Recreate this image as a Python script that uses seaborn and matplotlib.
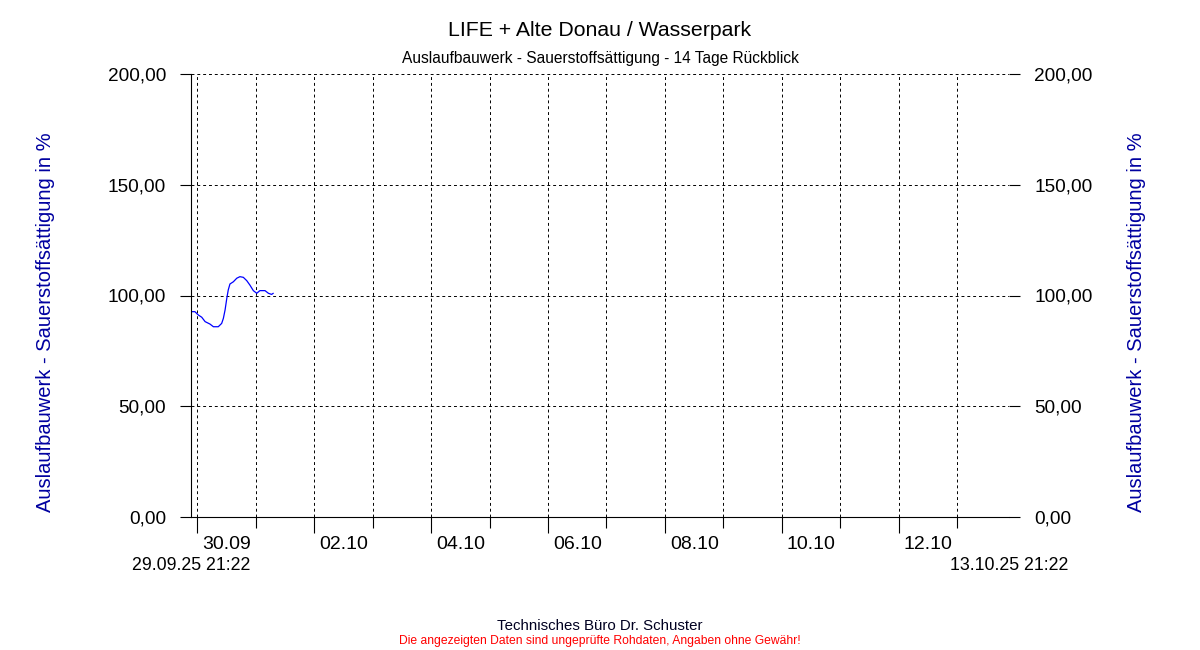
import pandas as pd
import matplotlib
matplotlib.use('Agg')
import matplotlib.pyplot as plt
import matplotlib.dates as mdates
import matplotlib.transforms as mtransforms
from matplotlib.ticker import FuncFormatter
import seaborn as sns

# Messwerte (Stunden seit Beginn, Sauerstoffsaettigung in %)
start = pd.Timestamp('2025-09-29 21:22')
end = pd.Timestamp('2025-10-13 21:22')
hours = [0.3, 1.6, 3.0, 4.4, 5.8, 7.8, 9.2, 11.2, 12.6, 13.3, 14.0, 14.7,
         15.3, 16.0, 17.4, 18.8, 20.1, 21.5, 22.9, 24.2, 25.6, 27.0, 28.3,
         30.4, 31.8, 33.1, 33.8]
values = [92.7, 92.7, 91.2, 90.2, 88.2, 87.1, 85.9, 85.9, 87.4, 89.7, 93.5,
          98.7, 102.5, 105.2, 106.2, 107.8, 108.5, 108.2, 106.7, 104.7, 102.2,
          101.0, 102.2, 102.2, 101.0, 100.5, 101.0]
y_ticks = [0, 50, 100, 150, 200]

df = pd.DataFrame({'zeit': start + pd.to_timedelta(hours, unit='h'),
                   'wert': values})

sns.set_style('white')
plt.rcParams['font.family'] = ['Liberation Sans', 'DejaVu Sans']
plt.rcParams['text.color'] = 'black'
plt.rcParams['xtick.color'] = 'black'
plt.rcParams['ytick.color'] = 'black'

fig = plt.figure(figsize=(12, 6.5), dpi=100)
ax = fig.add_axes([191 / 1200, 1 - 517 / 650, 818 / 1200, 443 / 650])

sns.lineplot(data=df, x='zeit', y='wert', ax=ax, color='#0000FF', lw=0.9)

ax.set_xlim(start, end)
ax.set_ylim(0, 200)
ax.set_xlabel('')
ax.set_ylabel('')

for s in ['top', 'right']:
    ax.spines[s].set_visible(False)
for s in ['left', 'bottom']:
    ax.spines[s].set_color('black')
    ax.spines[s].set_linewidth(0.8)

ax.set_yticks(y_ticks)
ax.yaxis.set_major_formatter(FuncFormatter(lambda v, p: f'{v:.2f}'.replace('.', ',')))
ax.tick_params(axis='y', left=True, right=True, labelright=True, length=8,
               width=0.8, color='black', labelcolor='black', labelsize=13.7, pad=10)

ax.xaxis.set_major_locator(mdates.DayLocator(bymonthday=[30, 2, 4, 6, 8, 10, 12]))
ax.xaxis.set_minor_locator(mdates.DayLocator())
ax.xaxis.set_major_formatter(mdates.DateFormatter('%d.%m'))
ax.tick_params(axis='x', which='major', bottom=True, length=11.5, width=0.8,
               color='black', labelcolor='black', labelsize=14, pad=2)
ax.tick_params(axis='x', which='minor', bottom=True, length=8, width=0.8,
               color='black')
shift = mtransforms.ScaledTranslation(5 / 100, 0, fig.dpi_scale_trans)
for lbl in ax.get_xticklabels():
    lbl.set_ha('left')
    lbl.set_transform(lbl.get_transform() + shift)

ax.grid(True, which='both', axis='x', color='black', linestyle=(0, (3, 3)), lw=0.7)
ax.grid(True, which='major', axis='y', color='black', linestyle=(0, (3, 3)), lw=0.7)
ax.set_axisbelow(True)

# Start- und Endzeit
trans = mtransforms.blended_transform_factory(ax.transData, fig.transFigure)
ax.text(start, 1 - 565 / 650, start.strftime('%d.%m.%y %H:%M'), transform=trans,
        ha='center', va='center', fontsize=12.8, color='black')
ax.text(end, 1 - 565 / 650, end.strftime('%d.%m.%y %H:%M'), transform=trans,
        ha='center', va='center', fontsize=12.8, color='black')

fig.text(0.5, 1 - 30 / 650, 'LIFE + Alte Donau / Wasserpark', ha='center',
         va='center', fontsize=15.3, color='black')
fig.text(0.5, 1 - 59 / 650, 'Auslaufbauwerk - Sauerstoffsättigung - 14 Tage Rückblick',
         ha='center', va='center', fontsize=11.2, color='black')

ylab = 'Auslaufbauwerk - Sauerstoffsättigung in %'
fig.text(46 / 1200, 1 - 322 / 650, ylab, rotation=90, ha='center', va='center',
         fontsize=14.5, color='#0000A0')
fig.text(1137 / 1200, 1 - 322 / 650, ylab, rotation=90, ha='center', va='center',
         fontsize=14.5, color='#0000A0')

fig.text(0.5, 1 - 626 / 650, 'Technisches Büro Dr. Schuster', ha='center',
         va='center', fontsize=10.8, color='#000020')
fig.text(0.5, 1 - 641 / 650,
         'Die angezeigten Daten sind ungeprüfte Rohdaten, Angaben ohne Gewähr!',
         ha='center', va='center', fontsize=8.75, color='#FF0000')

fig.savefig('out.png', dpi=100, facecolor='white')
